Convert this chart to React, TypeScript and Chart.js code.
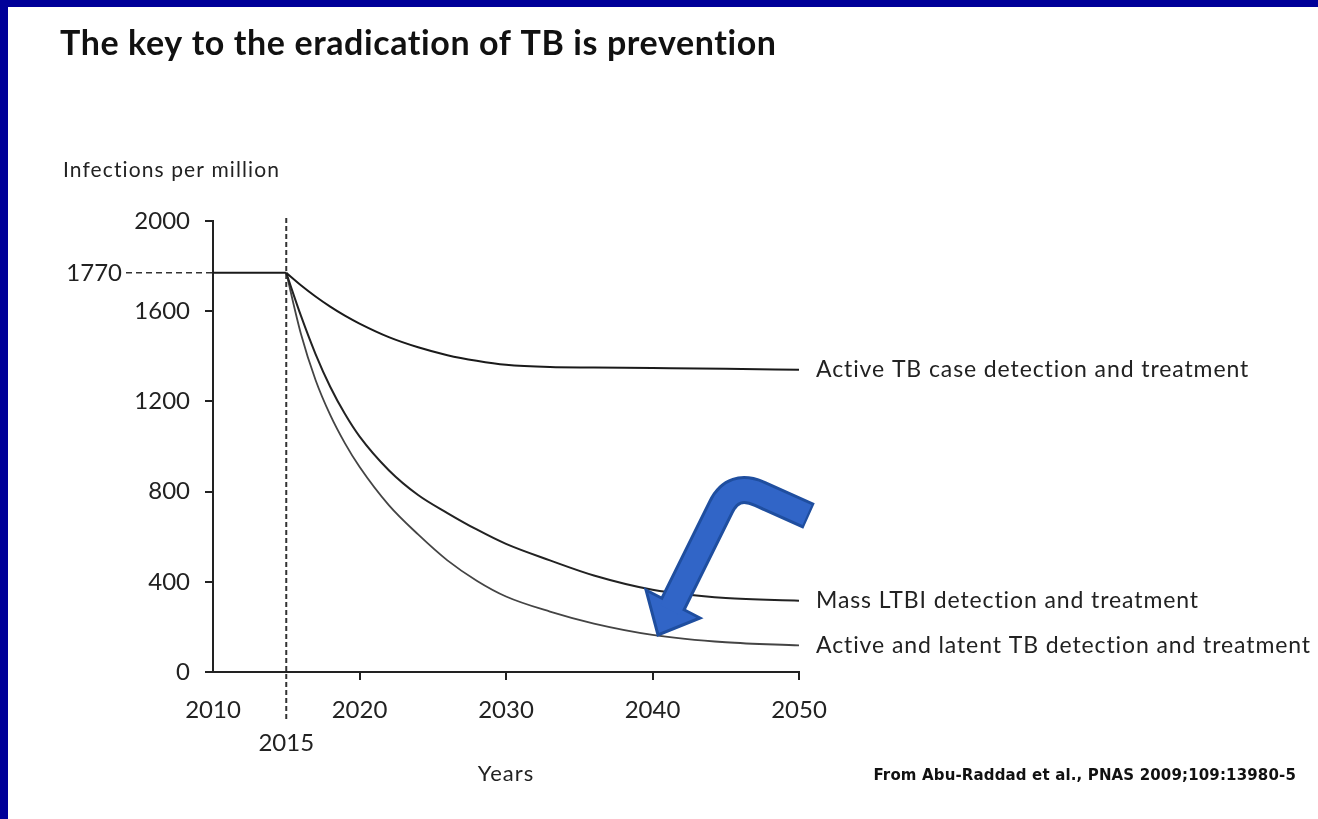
import React, { useEffect, useRef } from "react";
import { Chart, registerables } from "chart.js";

Chart.register(...registerables);

// ---- data ----
const years = [2015, 2016, 2017, 2018, 2019, 2020, 2022, 2024, 2026, 2028, 2030, 2033, 2036, 2040, 2045, 2050];
const activeTB = [1770, 1715, 1665, 1620, 1580, 1545, 1485, 1440, 1405, 1380, 1362, 1352, 1350, 1348, 1345, 1340];
const massLTBI = [1770, 1580, 1410, 1265, 1145, 1045, 895, 785, 705, 632, 568, 495, 428, 365, 328, 316];
const combined = [1770, 1500, 1295, 1140, 1015, 910, 740, 610, 495, 405, 335, 268, 215, 165, 132, 118];
const baselineYears = [2010, 2015];
const baselineValue = 1770;
const interventionYear = 2015;
const seriesLabels = [
  "Active TB case detection and treatment",
  "Mass LTBI detection and treatment",
  "Active and latent TB detection and treatment",
];
const xTicks = [2010, 2020, 2030, 2040, 2050];
const yTicks = [0, 400, 800, 1200, 1600, 2000];
const titleText = "The key to the eradication of TB is prevention";
const yAxisTitle = "Infections per million";
const xAxisTitle = "Years";
const sourceText = "From Abu-Raddad et al., PNAS 2009;109:13980-5";

const FONT = "Lato, 'Open Sans', sans-serif";
const INK = "#222";

const annotationPlugin = {
  id: "tbAnnotations",
  beforeDatasetsDraw(chart: any) {
    const { ctx, chartArea, scales } = chart;
    const x = scales.x;
    const y = scales.y;
    ctx.save();
    const xv = x.getPixelForValue(interventionYear);
    ctx.strokeStyle = "#333";
    ctx.lineWidth = 2;
    ctx.setLineDash([5, 3]);
    ctx.beginPath();
    ctx.moveTo(xv, chartArea.top - 3);
    ctx.lineTo(xv, chartArea.bottom + 50);
    ctx.stroke();
    const yb = y.getPixelForValue(baselineValue);
    ctx.lineWidth = 1.5;
    ctx.setLineDash([6, 4]);
    ctx.beginPath();
    ctx.moveTo(chartArea.left - 87, yb);
    ctx.lineTo(chartArea.left, yb);
    ctx.stroke();
    ctx.restore();
  },
  afterDraw(chart: any) {
    const { ctx, chartArea, scales } = chart;
    const x = scales.x;
    const y = scales.y;
    ctx.save();
    ctx.fillStyle = INK;
    ctx.textBaseline = "middle";
    const spacing = (px: number) => {
      (ctx as any).letterSpacing = `${px}px`;
    };

    // 1770 label
    spacing(0);
    ctx.font = `24px ${FONT}`;
    ctx.textAlign = "right";
    ctx.fillText(String(baselineValue), chartArea.left - 91, y.getPixelForValue(baselineValue));

    // 2015 label
    ctx.textAlign = "center";
    ctx.fillText(String(interventionYear), x.getPixelForValue(interventionYear), chartArea.bottom + 71);

    // x axis title
    spacing(1);
    ctx.font = `22px ${FONT}`;
    ctx.fillText(xAxisTitle, x.getPixelForValue(2030), chartArea.bottom + 102);

    // y axis title
    ctx.textAlign = "left";
    spacing(1.1);
    ctx.font = `21px ${FONT}`;
    ctx.fillText(yAxisTitle, 63, 170);

    // series labels
    spacing(0.9);
    ctx.font = `23px ${FONT}`;
    const lastVals = [activeTB, massLTBI, combined].map((s) => s[s.length - 1]);
    lastVals.forEach((v, i) => {
      ctx.fillText(seriesLabels[i], chartArea.right + 17, y.getPixelForValue(v));
    });

    // title
    spacing(0.6);
    ctx.font = `bold 34px ${FONT}`;
    ctx.fillStyle = "#111";
    ctx.fillText(titleText, 60, 44);

    // source
    spacing(0.15);
    ctx.font = `bold 15px 'DejaVu Sans', sans-serif`;
    ctx.textAlign = "right";
    ctx.fillText(sourceText, 1296, 776);
    ctx.restore();
  },
};

export default function App() {
  const canvasRef = useRef<HTMLCanvasElement | null>(null);

  useEffect(() => {
    document.documentElement.style.overflow = "hidden";
    document.body.style.overflow = "hidden";
    if (!canvasRef.current) return;
    const pts = (vals: number[]) => vals.map((v, i) => ({ x: years[i], y: v }));
    const chart = new Chart(canvasRef.current, {
      type: "line",
      data: {
        datasets: [
          {
            label: "Baseline",
            data: baselineYears.map((yr) => ({ x: yr, y: baselineValue })),
            borderColor: "#1a1a1a",
            borderWidth: 2,
          },
          {
            label: seriesLabels[0],
            data: pts(activeTB),
            borderColor: "#1a1a1a",
            borderWidth: 2,
            cubicInterpolationMode: "monotone",
          },
          {
            label: seriesLabels[1],
            data: pts(massLTBI),
            borderColor: "#222",
            borderWidth: 2,
            cubicInterpolationMode: "monotone",
          },
          {
            label: seriesLabels[2],
            data: pts(combined),
            borderColor: "#444",
            borderWidth: 1.8,
            cubicInterpolationMode: "monotone",
          },
        ],
      },
      options: {
        animation: false,
        responsive: false,
        devicePixelRatio: 1,
        layout: { padding: { left: 0, top: 221, right: 519, bottom: 0 } },
        elements: { point: { radius: 0 } },
        plugins: {
          legend: { display: false },
          tooltip: { enabled: false },
          title: { display: false },
        },
        scales: {
          x: {
            type: "linear",
            min: 2010,
            max: 2050,
            afterBuildTicks: (s: any) => {
              s.ticks = xTicks.map((v) => ({ value: v }));
            },
            afterFit: (s: any) => {
              s.height = 147;
            },
            ticks: {
              font: { family: FONT, size: 24 },
              color: INK,
              padding: 16,
              maxRotation: 0,
              autoSkip: false,
              callback: (v: any) => String(v),
            },
            grid: {
              drawOnChartArea: false,
              drawTicks: true,
              tickLength: 8,
              lineWidth: 2,
              tickColor: (c: any) => (c.tick && c.tick.value === 2010 ? "rgba(0,0,0,0)" : INK),
            },
            border: { display: true, color: INK, width: 2 },
          },
          y: {
            type: "linear",
            min: 0,
            max: 2000,
            afterBuildTicks: (s: any) => {
              s.ticks = yTicks.map((v) => ({ value: v }));
            },
            afterFit: (s: any) => {
              s.width = 213;
            },
            ticks: {
              font: { family: FONT, size: 24 },
              color: INK,
              padding: 15,
              autoSkip: false,
              callback: (v: any) => String(v),
            },
            grid: {
              drawOnChartArea: false,
              drawTicks: true,
              tickLength: 8,
              lineWidth: 2,
              tickColor: INK,
            },
            border: { display: true, color: INK, width: 2 },
          },
        },
      },
      plugins: [annotationPlugin],
    } as any);
    return () => chart.destroy();
  }, []);

  return (
    <div
      style={{
        position: "fixed",
        left: 0,
        top: 0,
        width: 1318,
        height: 819,
        background: "#fff",
        overflow: "hidden",
      }}
    >
      <canvas
        ref={canvasRef}
        width={1318}
        height={819}
        style={{ position: "absolute", left: 0, top: 0, width: 1318, height: 819 }}
      />
      <div style={{ position: "absolute", left: 0, top: 0, width: 1318, height: 7, background: "#000099" }} />
      <div style={{ position: "absolute", left: 0, top: 0, width: 8, height: 819, background: "#000099" }} />
      <svg
        width={1318}
        height={819}
        style={{ position: "absolute", left: 0, top: 0, pointerEvents: "none" }}
      >
        <path
          d="M 809 516 L 760 494 Q 733 482 721 507 L 673 604"
          fill="none"
          stroke="#1f4e9f"
          strokeWidth={28}
          strokeLinejoin="round"
        />
        <polygon
          points="646,590 700,618 658,635"
          fill="#3165c7"
          stroke="#1f4e9f"
          strokeWidth={3}
          strokeLinejoin="miter"
        />
        <path
          d="M 807 515 L 760 494 Q 733 482 721 507 L 670 610"
          fill="none"
          stroke="#3165c7"
          strokeWidth={22}
          strokeLinejoin="round"
        />
      </svg>
    </div>
  );
}
